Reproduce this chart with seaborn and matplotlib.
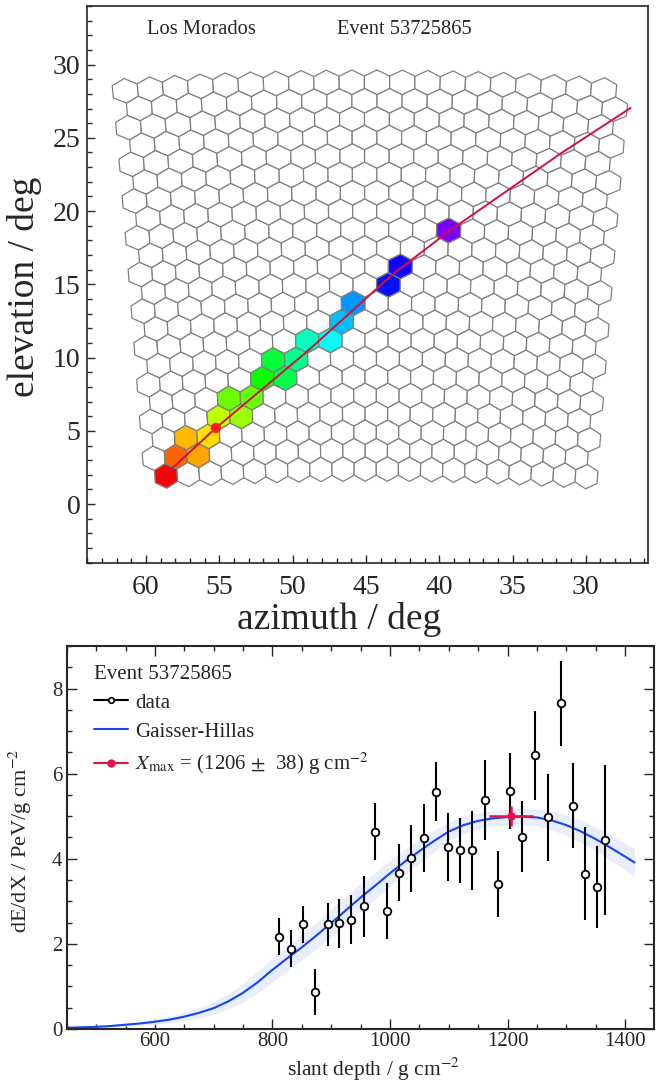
import numpy as np
import matplotlib
matplotlib.use("Agg")
import matplotlib.pyplot as plt
from matplotlib.collections import PolyCollection
from matplotlib.lines import Line2D
from matplotlib.ticker import MultipleLocator
import seaborn as sns

# ---- top panel: camera pixels hit by the shower ----
n_rows, n_cols = 22, 20
pix_w, row_dv = 1.55, 1.257   # camera pixel pitch (deg)
az0, el0 = 44.67, 15.6        # camera axis

hit_row = [0, 1, 1, 2, 2, 3, 3, 4, 4, 5, 5, 6, 6, 7, 7, 8, 9, 10, 11, 13]
hit_col = [0, 1, 2, 1, 2, 3, 4, 3, 4, 5, 6, 5, 6, 7, 8, 8, 9, 10, 11, 13]
hit_time = [0.0, 0.067, 0.111, 0.122, 0.15, 0.214, 0.235, 0.267, 0.274, 0.333,
            0.389, 0.378, 0.433, 0.467, 0.5, 0.549, 0.578, 0.667, 0.689, 0.756]

track_az = [59.14, 55.23, 49.03, 43.12, 39.26, 31.76, 26.94]
track_el = [1.59, 5.20, 10.40, 15.73, 18.68, 23.90, 27.04]
xmax_az, xmax_el = [55.23], [5.20]

# ---- bottom panel: longitudinal profile ----
depth = [811, 832, 852, 873, 894, 914, 934, 955, 975, 995, 1016, 1036, 1057, 1078,
         1098, 1119, 1140, 1162, 1183, 1204, 1225, 1247, 1268, 1290, 1311, 1332, 1352, 1365]
dedx = [2.17, 1.89, 2.46, 0.88, 2.46, 2.48, 2.57, 2.88, 4.64, 2.78, 3.67, 4.01, 4.48, 5.58,
        4.27, 4.20, 4.20, 5.39, 3.40, 5.60, 4.52, 6.43, 4.97, 7.65, 5.25, 3.65, 3.34, 4.44]
dedx_err = [0.43, 0.43, 0.44, 0.54, 0.51, 0.57, 0.58, 0.72, 0.67, 0.66, 0.67, 0.78, 0.80, 0.70,
            0.80, 0.76, 0.93, 0.94, 0.78, 0.89, 0.84, 1.04, 1.03, 1.00, 1.00, 1.10, 0.96, 1.77]

gh_x = [450, 475, 500, 525, 550, 575, 600, 625, 650, 675, 700, 725, 750, 775, 800, 825,
        850, 875, 900, 925, 950, 975, 1000, 1025, 1050, 1075, 1100, 1125, 1150, 1175,
        1200, 1225, 1250, 1275, 1300, 1325, 1350, 1375, 1400, 1416]
gh_y = [0.03, 0.04, 0.05, 0.07, 0.10, 0.13, 0.17, 0.22, 0.29, 0.38, 0.49, 0.65, 0.85, 1.10,
        1.39, 1.66, 1.92, 2.20, 2.49, 2.79, 3.09, 3.37, 3.66, 3.93, 4.18, 4.42, 4.64, 4.79,
        4.89, 4.95, 4.98, 4.99, 4.97, 4.90, 4.79, 4.64, 4.46, 4.26, 4.05, 3.91]
gh_band = [0.0, 0.0, 0.01, 0.02, 0.03, 0.04, 0.06, 0.08, 0.10, 0.12, 0.15, 0.18, 0.22, 0.25,
           0.28, 0.29, 0.30, 0.31, 0.32, 0.32, 0.32, 0.31, 0.30, 0.29, 0.27, 0.25, 0.22, 0.20,
           0.19, 0.18, 0.18, 0.19, 0.20, 0.22, 0.24, 0.26, 0.28, 0.30, 0.32, 0.33]

xmax, xmax_err = 1206, 38
fmax, fmax_err = 5.0, 0.24

sns.set_style("ticks")
plt.rcParams['font.family'] = ['Liberation Serif', 'DejaVu Serif']
plt.rcParams['mathtext.fontset'] = 'stix'


def cam_to_azel(u, v):
    u, v, e = np.radians(u), np.radians(v), np.radians(el0)
    x = np.cos(v) * np.cos(u) * np.cos(e) - np.sin(v) * np.sin(e)
    y = np.cos(v) * np.sin(u)
    z = np.cos(v) * np.cos(u) * np.sin(e) + np.sin(v) * np.cos(e)
    return az0 + np.degrees(np.arctan2(y, x)), np.degrees(np.arcsin(z))


def pixel_polygon(k, j):
    uc = (9.5 - j) * pix_w + (0.25 if k % 2 else -0.25) * pix_w
    vc = -13.2 + k * row_dv
    du = np.array([0, 0.5, 0.5, 0, -0.5, -0.5]) * pix_w
    dv = np.array([2, 1, -1, -2, -1, 1]) / 3 * row_dv
    az, el = cam_to_azel(uc + du, vc + dv)
    return np.column_stack([az, el])


fig = plt.figure(figsize=(6.6, 10.82), dpi=100)
ax1 = fig.add_axes([0.1323, 0.4799, 0.8495, 0.5146])
ax2 = fig.add_axes([0.1011, 0.049, 0.8898, 0.354])

# camera
all_pix = [pixel_polygon(k, j) for k in range(n_rows) for j in range(n_cols)]
ax1.add_collection(PolyCollection(all_pix, facecolors='white', edgecolors='#808080', linewidths=0.9))
hit_pix = [pixel_polygon(k, j) for k, j in zip(hit_row, hit_col)]
hit_colors = plt.cm.hsv(np.array(hit_time))
ax1.add_collection(PolyCollection(hit_pix, facecolors=hit_colors, edgecolors='#808080', linewidths=0.9))

sns.lineplot(x=track_az, y=track_el, ax=ax1, color='#d40f3c', lw=1.4, sort=False)
sns.scatterplot(x=xmax_az, y=xmax_el, ax=ax1, color='#ff1a1a', s=55, edgecolor='none', zorder=5)

ax1.set_xlim(64, 25.76)
ax1.set_ylim(-4, 34)
ax1.xaxis.set_major_locator(MultipleLocator(5))
ax1.xaxis.set_minor_locator(MultipleLocator(1))
ax1.yaxis.set_major_locator(MultipleLocator(5))
ax1.yaxis.set_minor_locator(MultipleLocator(1))
ax1.tick_params(which='both', direction='in', width=1.0, top=False, right=False)
ax1.tick_params(which='major', length=6, labelsize=20)
ax1.tick_params(which='minor', length=3.5)
ax1.tick_params(axis='x', pad=9)
ax1.tick_params(axis='y', pad=5)
for s in ax1.spines.values():
    s.set_linewidth(1.2)
ax1.set_xlabel('azimuth / deg', fontsize=27)
ax1.set_ylabel('elevation / deg', fontsize=27)
ax1.xaxis.set_label_coords(0.45, -0.07)
ax1.yaxis.set_label_coords(-0.081, 0.495)
ax1.text(0.1065, 0.957, 'Los Morados', transform=ax1.transAxes, fontsize=14.8, va='center')
ax1.text(0.4455, 0.957, 'Event 53725865', transform=ax1.transAxes, fontsize=14.8, va='center')

# profile
gh_lo = np.array(gh_y) - np.array(gh_band)
gh_hi = np.array(gh_y) + np.array(gh_band)
ax2.fill_between(gh_x, gh_lo, gh_hi, color='#e9eefc', lw=0, zorder=1)
sns.lineplot(x=gh_x, y=gh_y, ax=ax2, color='#1446f5', lw=1.5, sort=False, zorder=2)
ax2.errorbar(depth, dedx, yerr=dedx_err, fmt='none', ecolor='black', elinewidth=1.5, zorder=3)
sns.scatterplot(x=depth, y=dedx, ax=ax2, marker='o', s=30, color='white',
                edgecolor='black', linewidth=1.3, zorder=4)
ax2.errorbar([xmax], [fmax], xerr=[xmax_err], yerr=[fmax_err], fmt='o', color='#e8114a',
             ms=5, elinewidth=1.8, zorder=5)

ax2.set_xlim(450, 1449)
ax2.set_ylim(0, 9)
ax2.xaxis.set_major_locator(MultipleLocator(200))
ax2.xaxis.set_minor_locator(MultipleLocator(50))
ax2.yaxis.set_major_locator(MultipleLocator(2))
ax2.yaxis.set_minor_locator(MultipleLocator(0.5))
ax2.tick_params(which='both', direction='in', width=1.0, top=True, right=True)
ax2.tick_params(which='major', length=7, labelsize=15)
ax2.tick_params(which='minor', length=3.5)
ax2.tick_params(axis='x', pad=2)
ax2.tick_params(axis='y', pad=3)
for s in ax2.spines.values():
    s.set_linewidth(1.5)
ax2.set_xlabel('slant depth / g cm$^{-2}$', fontsize=15.5, va='baseline')
ax2.set_ylabel('dE/dX / PeV/g cm$^{-2}$', fontsize=16)
ax2.xaxis.set_label_coords(0.522, -0.1227)
ax2.yaxis.set_label_coords(-0.055, 0.49)

handles = [
    Line2D([], [], color='black', lw=1.5, marker='o', ms=4, mfc='white', mec='black', mew=1.2),
    Line2D([], [], color='#1446f5', lw=1.5),
    Line2D([], [], color='#e8114a', lw=1.5, marker='o', ms=5),
]
labels = ['data', 'Gaisser-Hillas', r'$X_{\rm max}$ = (1206 $\pm$  38) g cm$^{-2}$']
ax2.legend(handles, labels, title='Event 53725865', loc='upper left', bbox_to_anchor=(0.028, 0.978),
           frameon=False, alignment='left', fontsize=15, title_fontsize=15, borderpad=0,
           handlelength=1.65, handletextpad=0.35, labelspacing=0.45)

fig.savefig('out.png', dpi=100)
